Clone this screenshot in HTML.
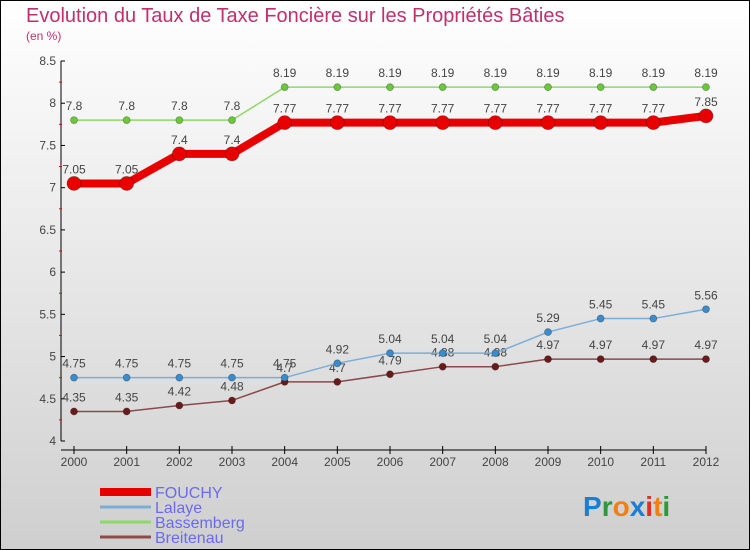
<!DOCTYPE html>
<html><head><meta charset="utf-8"><style>
html,body{margin:0;padding:0;width:750px;height:550px;overflow:hidden}
svg{display:block;font-family:"Liberation Sans",sans-serif}
</style></head><body>
<svg id="c" width="750" height="550" xmlns="http://www.w3.org/2000/svg">
<defs><linearGradient id="bg" x1="0" y1="0" x2="0" y2="1"><stop offset="0" stop-color="#ffffff"/><stop offset="1" stop-color="#cfcfcf"/></linearGradient></defs>
<rect x="0.5" y="0.5" width="749" height="549" fill="url(#bg)" stroke="#000"/>
<text x="26" y="22" font-size="20" fill="#c0306a">Evolution du Taux de Taxe Foncière sur les Propriétés Bâties</text>
<text x="26" y="40" font-size="12" fill="#c0306a">(en %)</text>
<g id="axes"></g><g id="series"></g><g id="legend"></g>
<g font-size="28" font-weight="bold">
<text x="583" y="516"><tspan fill="#1a7fd4">P</tspan><tspan fill="#2a9a3a">r</tspan><tspan fill="#f08010">o</tspan><tspan fill="#1a7fd4">x</tspan><tspan fill="#e03020">i</tspan><tspan fill="#f08010">t</tspan><tspan fill="#2a9a3a">i</tspan></text>
</g>
</svg>
<script>
const years=[2000,2001,2002,2003,2004,2005,2006,2007,2008,2009,2010,2011,2012];
const yTicks=[4,4.5,5,5.5,6,6.5,7,7.5,8,8.5];
const fouchy=[7.05,7.05,7.4,7.4,7.77,7.77,7.77,7.77,7.77,7.77,7.77,7.77,7.85];
const lalaye=[4.75,4.75,4.75,4.75,4.75,4.92,5.04,5.04,5.04,5.29,5.45,5.45,5.56];
const bassemberg=[7.8,7.8,7.8,7.8,8.19,8.19,8.19,8.19,8.19,8.19,8.19,8.19,8.19];
const breitenau=[4.35,4.35,4.42,4.48,4.7,4.7,4.79,4.88,4.88,4.97,4.97,4.97,4.97];
const names=["FOUCHY","Lalaye","Bassemberg","Breitenau"];
const NS="http://www.w3.org/2000/svg";
const X=i=>74+i*(706-74)/(years.length-1);
const Y=v=>441-(v-4)*(441-61)/4.5;
function mk(tag,attrs,parent){const e=document.createElementNS(NS,tag);for(const k in attrs)e.setAttribute(k,attrs[k]);parent.appendChild(e);return e;}
const axes=document.getElementById('axes');
let ya=mk('line',{x1:61,y1:61,x2:61,y2:441,stroke:'#000'},axes);


let xa=mk('line',{x1:61,y1:450,x2:706,y2:450,stroke:'#000'},axes);


yTicks.forEach((t,i)=>{
  mk('line',{x1:61,y1:Y(t),x2:65,y2:Y(t),stroke:'#000'},axes);
  if(i<yTicks.length-1) mk('line',{x1:59,y1:Y(t+0.25),x2:62,y2:Y(t+0.25),stroke:'#e00'},axes);
  const tx=mk('text',{x:56,y:Y(t)+4,'text-anchor':'end','font-size':12,fill:'#444'},axes);
  tx.textContent=String(t);
  
  
});
years.forEach((y,i)=>{
  mk('line',{x1:X(i),y1:446,x2:X(i),y2:454,stroke:'#000'},axes);
  const tx=mk('text',{x:X(i),y:466,'text-anchor':'middle','font-size':12,fill:'#444'},axes);
  tx.textContent=String(y);
  
  
});
const sg=document.getElementById('series');
function series(data,color,w,r,dot,key){
  const g=mk('g',{},sg);
  
  
  mk('polyline',{points:data.map((v,i)=>X(i)+','+Y(v)).join(' '),fill:'none',stroke:color,'stroke-width':w,'stroke-linejoin':'round'},g);
  data.forEach((v,i)=>{
    const c=mk('circle',{cx:X(i),cy:Y(v),r:r,fill:dot,stroke:'rgba(0,0,0,0.3)','stroke-width':0.8},g);
    
    
    const t=mk('text',{x:X(i),y:Y(v)-10,'text-anchor':'middle','font-size':12,fill:'#444'},g);
    t.textContent=String(v);
    
    
  });
}
series(breitenau,'#8b4a4a',1.5,3.5,'#6a1a1a','breitenau');
series(lalaye,'#7aaed8',1.5,3.5,'#3a8ccc','lalaye');
series(bassemberg,'#8ed86a',1.5,3.5,'#6ac83a','bassemberg');
series(fouchy,'#e80000',8,7,'#e80000','fouchy');
const lg=document.getElementById('legend');
const lc=['#e80000','#7aaed8','#8ed86a','#8b4a4a'];
const lw=[8,3,3,3];
names.forEach((n,i)=>{
  const y=492+i*15;
  const g=mk('g',{},lg);
  
  
  mk('line',{x1:100,y1:y,x2:151,y2:y,stroke:lc[i],'stroke-width':lw[i]},g);
  const t=mk('text',{x:155,y:y+6,'font-size':16,fill:'#6a6af0'},g);
  t.textContent=n;
});
</script>
</body></html>
